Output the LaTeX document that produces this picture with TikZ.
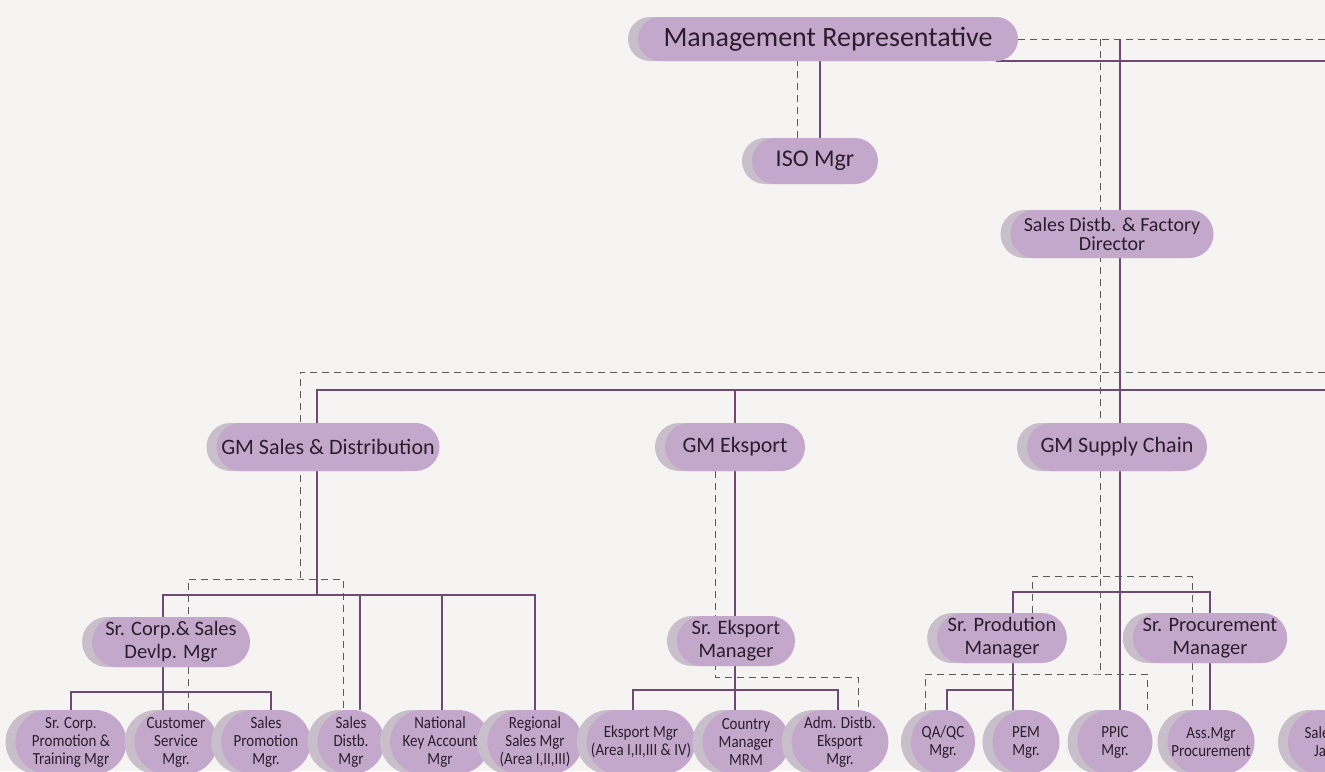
\documentclass[tikz,border=0pt]{standalone}
\usepackage{fontspec}
\setmainfont{Carlito}
\newfontfamily\narrowfont{Carlito}[FakeStretch=0.88]
\usetikzlibrary{shapes.misc,shadows,backgrounds,calc}
\definecolor{paper}{HTML}{F5F4F3}
\definecolor{pillfill}{HTML}{C4A8CC}
\definecolor{pillshade}{HTML}{C9BFCA}
\definecolor{pilltext}{HTML}{2B1D2E}
\definecolor{linkcol}{HTML}{6E4A73}
\definecolor{dashcol}{HTML}{5A5A5A}
\tikzset{
	pill/.style={rounded rectangle, fill=pillfill, text=pilltext, inner sep=0pt, align=center,
		general shadow={shadow xshift=-10pt, fill=pillshade}},
	toprole/.style={pill, font=\fontsize{28}{29}\selectfont, minimum height=44pt},
	gmrole/.style={pill, font=\fontsize{22}{24}\selectfont, minimum height=48pt},
	srrole/.style={pill, font=\fontsize{20.5}{23}\selectfont, minimum height=50pt},
	staff/.style={pill, font=\narrowfont\fontsize{17}{18}\selectfont, minimum height=64pt},
	link/.style={draw=linkcol, line width=1.6pt},
	dashline/.style={draw=dashcol, line width=1pt, dash pattern=on 7pt off 5pt}
}
\begin{document}
\begin{tikzpicture}[x=1pt, y=-1pt]
	\useasboundingbox (0,0) rectangle (1325,771);
	% top
	\node[toprole, minimum width=380pt] (MR) at (828,39) {Management Representative};
	\node[gmrole, font=\fontsize{24}{26}\selectfont, minimum width=126pt, minimum height=46pt] (ISO) at (815,161) {ISO Mgr};
	\node[pill, font=\fontsize{20}{19}\selectfont, minimum width=203pt, minimum height=48pt] (SDFD) at (1112,234) {Sales Distb. \& Factory\\Director};
	% general managers
	\node[gmrole, minimum width=223pt] (GMSD) at (328,447) {GM Sales \& Distribution};
	\node[gmrole, minimum width=140pt] (GME) at (735,447) {GM Eksport};
	\node[gmrole, minimum width=180pt] (GMSC) at (1117,447) {GM Supply Chain};
	% senior managers
	\node[srrole, minimum width=158pt] (SrCorp) at (171,642) {Sr. Corp.\& Sales\\Devlp. Mgr};
	\node[srrole, minimum width=118pt] (SrEks) at (736,641) {Sr. Eksport\\Manager};
	\node[srrole, minimum width=120pt] (SrProd) at (1002,638) {Sr. Prodution\\Manager};
	\node[srrole, minimum width=145pt] (SrProc) at (1210,638) {Sr. Procurement\\Manager};
	% staff
	\node[staff, minimum width=111pt] (SCPT) at (71,742) {Sr. Corp.\\Promotion \&\\Training Mgr};
	\node[staff, minimum width=83pt] (CSM) at (176,742) {Customer\\Service\\Mgr.};
	\node[staff, minimum width=77pt] (SPM) at (266,742) {Sales\\Promotion\\Mgr.};
	\node[staff, minimum width=67pt] (SDM) at (351,742) {Sales\\Distb.\\Mgr};
	\node[staff, minimum width=89pt] (NKA) at (440,742) {National\\Key Account\\Mgr};
	\node[staff, minimum width=85pt] (RSM) at (535,742) {Regional\\Sales Mgr\\(Area I,II,III)};
	\node[staff, minimum width=107pt] (EM) at (641,742) {Eksport Mgr\\(Area I,II,III \& IV)};
	\node[staff, minimum width=87pt] (CMM) at (746,742) {Country\\Manager\\MRM};
	\node[staff, minimum width=80pt] (ADE) at (840,742) {Adm. Distb.\\Eksport\\Mgr.};
	\node[staff, minimum width=64pt] (QAQC) at (943,742) {QA/QC\\Mgr.};
	\node[staff, minimum width=67pt] (PEM) at (1026,742) {PEM\\Mgr.};
	\node[staff, minimum width=75pt] (PPIC) at (1115,742) {PPIC\\Mgr.};
	\node[staff, minimum width=87pt] (AMP) at (1211,742) {Ass.Mgr\\Procurement};
	\node[staff, minimum width=64pt] (SJ) at (1320,742) {Sales\\Ja};
	% junctions
	\coordinate (edge) at (1325,0);
	\coordinate (sdash) at (1100,39);
	\coordinate (ssol) at (1120,39);
	\coordinate (busdash) at (300,372);
	\coordinate (bussol) at (317,390);
	\coordinate (sddash) at (300,579);
	\coordinate (sdsol) at (317,595);
	\coordinate (scbus) at (0,692);
	\coordinate (ekdash) at (715,677);
	\coordinate (ekbus) at (0,690);
	\coordinate (scsol) at (0,592);
	\coordinate (scdash) at (0,576);
	\coordinate (pddash) at (1100,674);
	\coordinate (pdbus) at (0,690);
	\begin{scope}[on background layer]
		\fill[paper] (0,0) rectangle (1325,771);
		% management representative
		\draw[dashline] (MR.east) -- (MR.east -| edge);
		\draw[link] (MR.south east) -- (MR.south -| edge);
		\draw[dashline] ([xshift=-18pt]ISO.north) -- ([xshift=-18pt]ISO.north |- MR.south);
		\draw[link] ([xshift=5pt]ISO.north) -- ([xshift=5pt]ISO.north |- MR.south);
		\draw[dashline] (sdash) -- (pddash);
		\draw[link] (ssol) -- (ssol |- PPIC.north);
		% main bus
		\draw[dashline] (busdash -| edge) -- (busdash) -- (sddash);
		\draw[link] (bussol -| edge) -- (bussol) -- (sdsol);
		% sales & distribution
		\draw[dashline] ([xshift=12pt]CSM.north) |- (sddash) -| ([xshift=-8pt]SDM.north);
		\draw[link] ([xshift=-8pt]SrCorp.north) |- (sdsol) -| (RSM.north);
		\draw[link] ([xshift=9pt]SDM.north) -- ([xshift=9pt]SDM.north |- sdsol);
		\draw[link] ([xshift=2pt]NKA.north) -- ([xshift=2pt]NKA.north |- sdsol);
		\draw[link] ([xshift=-8pt]SrCorp.south) -- ([xshift=-8pt]SrCorp.south |- CSM.north);
		\draw[link] (SCPT.north) |- ([xshift=5pt]SPM.north |- scbus) -- ([xshift=5pt]SPM.north);
		% eksport
		\draw[link] (GME.north |- bussol) -- (CMM.north -| GME.north);
		\draw[dashline] ([xshift=-20pt]GME.south) -- (ekdash) -| ([xshift=18pt]ADE.north);
		\draw[link] ([xshift=-8pt]EM.north) |- ([xshift=-2pt]ADE.north |- ekbus) -- ([xshift=-2pt]ADE.north);
		% supply chain
		\draw[link] ([xshift=11pt]SrProd.north) |- (SrProc.north |- scsol) -- (SrProc.north);
		\draw[dashline] ([xshift=30pt]SrProd.north) |- ([xshift=-18pt]SrProc.north |- scdash) -- ([xshift=-18pt]SrProc.north);
		\draw[dashline] ([xshift=-18pt]SrProc.south) -- ([xshift=-18pt]SrProc.south |- AMP.north);
		\draw[link] (SrProc.south) -- (SrProc.south |- AMP.north);
		\draw[link] ([xshift=11pt]SrProd.south) -- ([xshift=11pt]SrProd.south |- PEM.north);
		\draw[link] ([xshift=4pt]QAQC.north) |- ([xshift=11pt]SrProd.south |- pdbus);
		\draw[dashline] ([xshift=-18pt]QAQC.north) |- (pddash) -| ([xshift=32pt]PPIC.north);
	\end{scope}
\end{tikzpicture}
\end{document}
